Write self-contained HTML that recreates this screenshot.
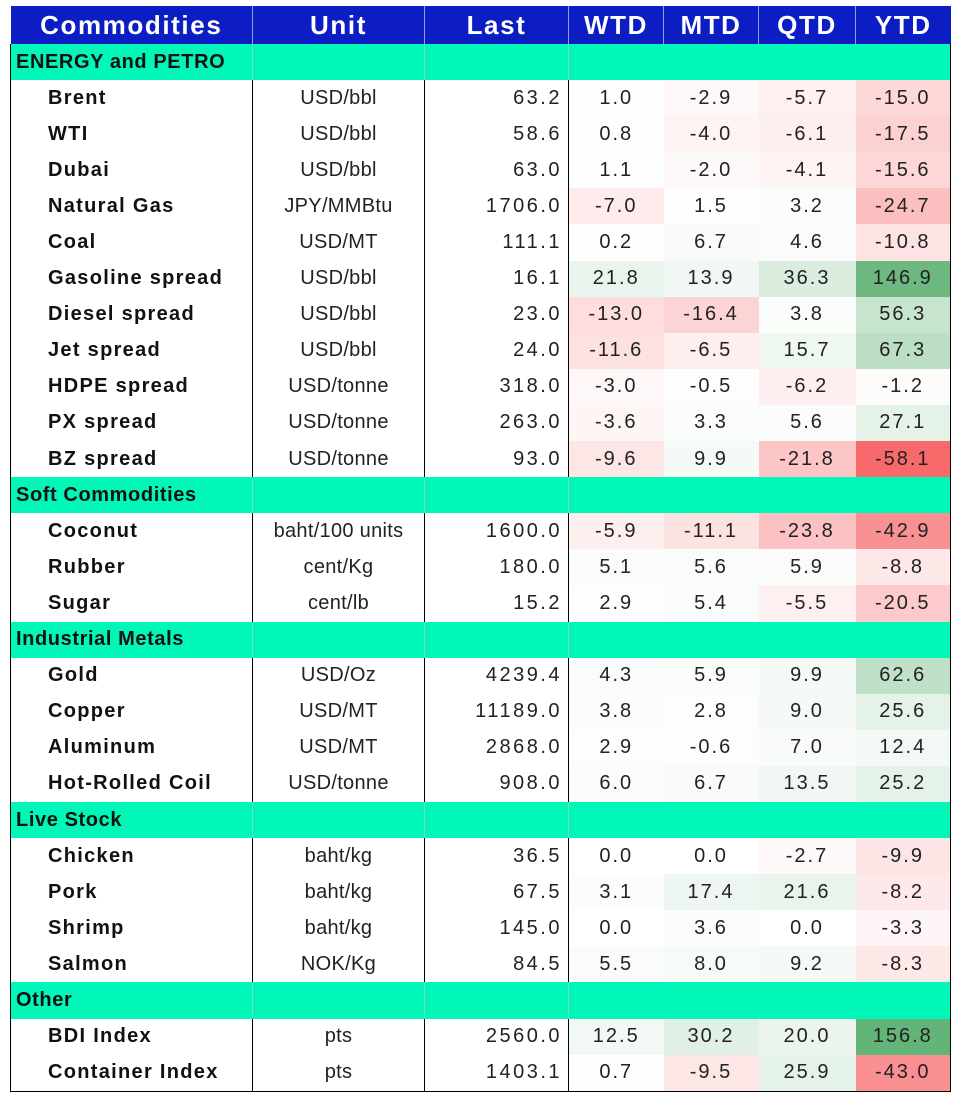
<!DOCTYPE html>
<html><head><meta charset="utf-8"><style>
body{margin:0;background:#fff;width:960px;height:1101px;overflow:hidden;font-family:"Liberation Sans",Arial,sans-serif;}
table{position:absolute;left:10px;top:6px;border-collapse:collapse;table-layout:fixed;}
td,th{padding:0;height:36.1px;font-size:20px;white-space:nowrap;color:#222;}
th{background:#0c1dc4;color:#fff;font-size:26px;letter-spacing:1.6px;font-weight:bold;height:38px;border-left:1px solid #8aa0d8;}
th:first-child{border-left:none}
tr.sec td{background:#00f7b8;font-weight:bold;color:#111;font-size:20px;letter-spacing:0.6px;}
tr.sec td:first-child{padding-left:5px}
tr.sec td.b{border-left:1px solid #7fd8c0}
td.n{padding-left:37px;font-weight:bold;color:#111;letter-spacing:1.3px;}
td.u{text-align:center;border-left:1.5px solid #000;letter-spacing:0.3px;}
td.l{text-align:right;padding-right:6px;border-left:1.5px solid #000;border-right:1.5px solid #000;letter-spacing:2.5px;}
td.v{text-align:center;letter-spacing:2px;}
tbody{border-left:1.5px solid #000;border-right:1.5px solid #000;border-bottom:1.5px solid #000;}
</style></head><body>
<table id="t">
<colgroup><col style="width:242px"><col style="width:172px"><col style="width:144px"><col style="width:95px"><col style="width:95px"><col style="width:97px"><col style="width:95px"></colgroup>
<thead><tr><th>Commodities</th><th>Unit</th><th>Last</th><th>WTD</th><th>MTD</th><th>QTD</th><th>YTD</th></tr></thead>
<tbody id="b"></tbody></table>
<script>
var D=[["ENERGY and PETRO"],
["Brent","USD/bbl","63.2",1.0,-2.9,-5.7,-15.0],
["WTI","USD/bbl","58.6",0.8,-4.0,-6.1,-17.5],
["Dubai","USD/bbl","63.0",1.1,-2.0,-4.1,-15.6],
["Natural Gas","JPY/MMBtu","1706.0",-7.0,1.5,3.2,-24.7],
["Coal","USD/MT","111.1",0.2,6.7,4.6,-10.8],
["Gasoline spread","USD/bbl","16.1",21.8,13.9,36.3,146.9],
["Diesel spread","USD/bbl","23.0",-13.0,-16.4,3.8,56.3],
["Jet spread","USD/bbl","24.0",-11.6,-6.5,15.7,67.3],
["HDPE spread","USD/tonne","318.0",-3.0,-0.5,-6.2,-1.2],
["PX spread","USD/tonne","263.0",-3.6,3.3,5.6,27.1],
["BZ spread","USD/tonne","93.0",-9.6,9.9,-21.8,-58.1],
["Soft Commodities"],
["Coconut","baht/100 units","1600.0",-5.9,-11.1,-23.8,-42.9],
["Rubber","cent/Kg","180.0",5.1,5.6,5.9,-8.8],
["Sugar","cent/lb","15.2",2.9,5.4,-5.5,-20.5],
["Industrial Metals"],
["Gold","USD/Oz","4239.4",4.3,5.9,9.9,62.6],
["Copper","USD/MT","11189.0",3.8,2.8,9.0,25.6],
["Aluminum","USD/MT","2868.0",2.9,-0.6,7.0,12.4],
["Hot-Rolled Coil","USD/tonne","908.0",6.0,6.7,13.5,25.2],
["Live Stock"],
["Chicken","baht/kg","36.5",0.0,0.0,-2.7,-9.9],
["Pork","baht/kg","67.5",3.1,17.4,21.6,-8.2],
["Shrimp","baht/kg","145.0",0.0,3.6,0.0,-3.3],
["Salmon","NOK/Kg","84.5",5.5,8.0,9.2,-8.3],
["Other"],
["BDI Index","pts","2560.0",12.5,30.2,20.0,156.8],
["Container Index","pts","1403.1",0.7,-9.5,25.9,-43.0]];
function col(v){var r,g,b,t;if(v>=0){t=Math.min(v/156.8,1);r=255+(99-255)*t;g=255+(180-255)*t;b=255+(120-255)*t;}else{t=Math.min(-v/58.1,1);r=255+(248-255)*t;g=255+(105-255)*t;b=255+(107-255)*t;}return"rgb("+(r|0)+","+(g|0)+","+(b|0)+")";}
var h="";D.forEach(function(d){if(d.length==1){h+='<tr class="sec"><td>'+d[0]+'</td><td class="b"></td><td class="b"></td><td class="b" colspan="4"></td></tr>';}else{h+='<tr><td class="n">'+d[0]+'</td><td class="u">'+d[1]+'</td><td class="l">'+d[2]+'</td>';for(var i=3;i<7;i++)h+='<td class="v" style="background:'+col(d[i])+'">'+d[i].toFixed(1)+'</td>';h+='</tr>';}});
document.getElementById("b").innerHTML=h;
</script>
</body></html>
